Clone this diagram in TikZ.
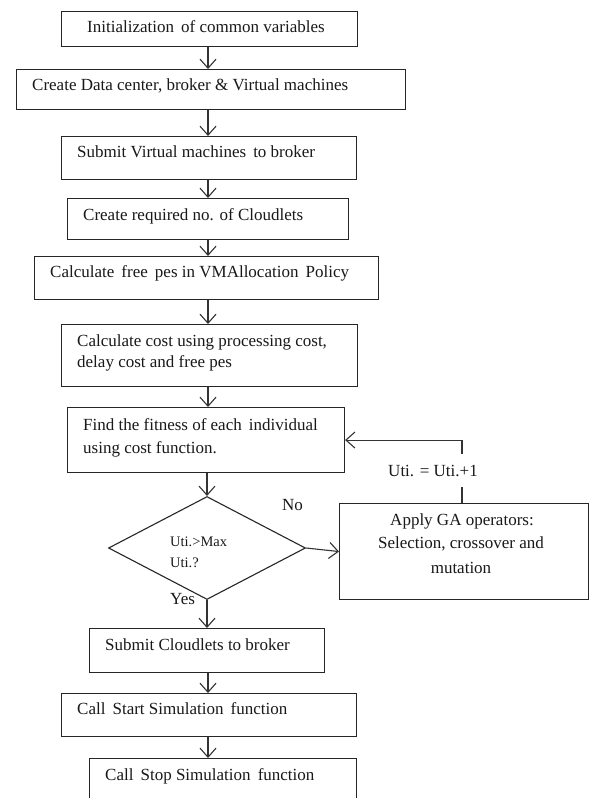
\documentclass[tikz,border=0pt]{standalone}
\usepackage{fontspec}
\setmainfont{Liberation Serif}
\usetikzlibrary{arrows.meta,shapes.geometric}
\begin{document}
\begin{tikzpicture}[x=1pt,y=-1pt,
  stepbox/.style={draw=black!85, line width=1.1pt, inner sep=0pt, anchor=north west, rectangle},
  txt/.style={inner sep=0pt, anchor=base west, font=\fontsize{17}{21}\selectfont, text=black!90},
  ctxt/.style={inner sep=0pt, anchor=base, font=\fontsize{17}{21}\selectfont, text=black!90},
  stxt/.style={inner sep=0pt, anchor=base west, font=\fontsize{14.5}{18}\selectfont, text=black!90},
  flow/.style={draw=black!80, line width=1.1pt, -{Straight Barb[length=9pt,width=16pt,line width=1.1pt]}},
  plain/.style={draw=black!80, line width=1.1pt}]
\useasboundingbox (0,0) rectangle (589,798);
\clip (0,0) rectangle (589,798);
\fill[white] (0,0) rectangle (589,798);
\coordinate (ax) at (208,0);
\coordinate (fx) at (462,0);
% boxes
\node[stepbox, minimum width=296pt, minimum height=35pt] (b1) at (61,11) {};
\node[stepbox, minimum width=389pt, minimum height=40pt] (b2) at (16,69) {};
\node[stepbox, minimum width=295pt, minimum height=43pt] (b3) at (61,136) {};
\node[stepbox, minimum width=281pt, minimum height=41pt] (b4) at (67,198) {};
\node[stepbox, minimum width=344pt, minimum height=43pt] (b5) at (34,256) {};
\node[stepbox, minimum width=296pt, minimum height=62pt] (b6) at (61,324) {};
\node[stepbox, minimum width=277pt, minimum height=65pt] (b7) at (67,407) {};
\node[draw=black!85, line width=1.1pt, shape=diamond, aspect=1.91, inner sep=0pt, minimum width=197pt, minimum height=103pt] (d) at (207,548) {};
\node[stepbox, minimum width=249pt, minimum height=96pt] (ga) at (339,503) {};
\node[stepbox, minimum width=235pt, minimum height=44pt] (b8) at (89,628) {};
\node[stepbox, minimum width=295pt, minimum height=43pt] (b9) at (61,693) {};
\node[stepbox, minimum width=267pt, minimum height=50pt] (b10) at (89,758) {};
% texts
\node[txt] (t1) at (87,32) {Initialization\, of common variables};
\node[txt] (t2) at (32,90) {Create Data center, broker \& Virtual machines};
\node[txt] (t3) at (77,157) {Submit Virtual machines\, to broker};
\node[txt] (t4) at (83,220) {Create required no. of Cloudlets};
\node[txt] (t5) at (50,277) {Calculate\, free\, pes in VMAllocation\, Policy};
\node[txt] (t6a) at (77,346) {Calculate cost using processing cost,};
\node[txt] (t6b) at (77,367) {delay cost and free pes};
\node[txt] (t7a) at (83,430) {Find the fitness of each\, individual};
\node[txt] (t7b) at (83,453) {using cost function.};
\node[stxt] (td1) at (170,546) {Uti.>Max};
\node[stxt] (td2) at (170,567) {Uti.?};
\node[ctxt] (tg1) at (462,525) {Apply GA operators:};
\node[ctxt] (tg2) at (461,548) {Selection, crossover and};
\node[ctxt] (tg3) at (461,573) {mutation};
\node[txt] (t8) at (105,650) {Submit Cloudlets to broker};
\node[txt] (t9) at (77,714) {Call\, Start Simulation\, function};
\node[txt] (t10) at (105,780) {Call\, Stop Simulation\, function};
\node[txt] (tno) at (282,510) {No};
\node[txt] (tyes) at (170,604) {Yes};
% connectors
\draw[flow] (b1.south -| ax) -- (b2.north -| ax);
\draw[flow] (b2.south -| ax) -- (b3.north -| ax);
\draw[flow] (b3.south -| ax) -- (b4.north -| ax);
\draw[flow] (b4.south -| ax) -- (b5.north -| ax);
\draw[flow] (b5.south -| ax) -- (b6.north -| ax);
\draw[flow] (b6.south -| ax) -- (b7.north -| ax);
\draw[flow] (b7.south -| d.north) -- (d.north);
\draw[flow] (d.east) -- (ga.west);
\draw[flow] (d.south) -- (b8.north -| d.south);
\draw[flow] (b8.south -| ax) -- (b9.north -| ax);
\draw[flow] (b9.south -| ax) -- (b10.north -| ax);
\draw[flow] (ga.north -| fx) |- (b7.east);
\node[fill=white, inner sep=0pt, minimum width=92pt, minimum height=33pt] (tu) at (433,470) {};
\node[ctxt] (tut) at (433,476) {Uti. = Uti.+1};
\end{tikzpicture}
\end{document}
